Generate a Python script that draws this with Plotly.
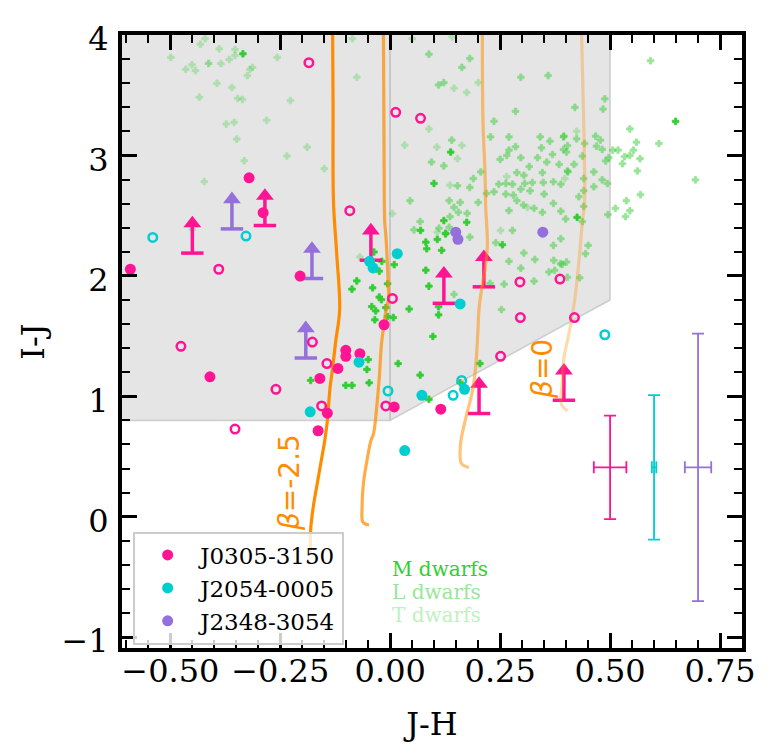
import plotly.graph_objects as go

# ---- brown dwarf loci (J-H, I-J) ----
m_dwarfs = [
    (-0.335, 3.844), (0.069, 2.377), (-0.037, 2.198), (-0.019, 2.121), (0.009, 2.093),
    (0.081, 2.280), (0.083, 2.225), (0.081, 2.047), (0.088, 1.915), (-0.076, 1.958),
    (-0.087, 1.890), (-0.040, 1.901), (-0.025, 1.824), (-0.020, 1.802), (-0.042, 1.745),
    (-0.033, 1.709), (-0.006, 1.662), (0.007, 1.654), (0.043, 1.725), (-0.025, 2.039),
    (-0.006, 1.934), (-0.010, 1.736), (-0.035, 1.635), (0.117, 2.212), (0.110, 1.744),
    (0.110, 1.676), (0.097, 1.497), (-0.050, 1.305), (-0.053, 1.223), (-0.048, 1.112),
    (0.018, 1.272), (0.068, 1.176), (0.088, 0.975), (-0.101, 1.091), (-0.087, 1.091),
    (-0.181, 1.132), (0.204, 1.272), (0.126, 2.349), (0.159, 1.112), (0.1375, 3.028),
    (0.0995, 2.767), (0.122, 2.459), (0.174, 2.445), (0.126, 2.354), (0.107, 2.303),
    (0.425, 2.486), (0.255, 2.258), (0.649, 3.283),
]
l_dwarfs = [
    (-0.413, 3.764), (0.134, 2.404),
    (0.140, 3.127), (0.094, 2.945), (0.122, 2.913), (0.153, 2.748), (0.045, 2.624),
    (0.134, 2.624), (0.159, 2.610), (0.145, 2.569), (0.155, 2.528), (0.175, 2.519),
    (0.136, 2.492), (0.068, 2.451), (0.054, 2.382), (0.111, 2.396), (0.181, 2.322),
    (0.200, 2.610), (0.206, 2.863), (0.189, 2.808), (0.181, 2.734), (0.228, 3.154),
    (0.270, 3.154), (0.250, 2.967), (0.265, 3.000), (0.270, 3.044), (0.285, 3.072),
    (0.297, 2.981), (0.316, 2.907), (0.341, 3.154), (0.344, 3.063), (0.335, 2.981),
    (0.356, 2.945), (0.369, 3.008), (0.363, 3.119), (0.394, 3.154), (0.424, 3.138),
    (0.394, 3.049), (0.384, 2.926), (0.403, 2.871), (0.418, 2.926), (0.247, 2.761),
    (0.263, 2.767), (0.278, 2.761), (0.306, 2.767), (0.323, 2.775), (0.348, 2.775),
    (0.371, 2.781), (0.388, 2.761), (0.346, 2.857), (0.288, 2.857), (0.304, 2.835),
    (0.219, 2.684), (0.236, 2.698), (0.263, 2.679), (0.280, 2.670), (0.297, 2.720),
    (0.318, 2.706), (0.350, 2.679), (0.288, 2.624), (0.303, 2.588), (0.327, 2.561),
    (0.346, 2.528), (0.371, 2.602), (0.270, 2.542), (0.388, 2.537), (0.399, 2.472),
    (0.278, 2.377), (0.240, 2.275), (0.304, 2.190), (0.329, 2.136), (0.371, 2.253),
    (0.388, 2.308), (0.372, 2.129), (0.391, 2.095), (0.270, 2.121), (0.297, 2.064),
    (0.361, 2.032), (0.374, 2.046), (0.327, 1.956), (0.259, 1.931), (0.403, 1.988),
    (0.253, 1.720), (0.145, 1.846), (0.227, 1.937), (0.387, 2.101),
    (0.420, 3.399), (0.484, 3.385), (0.395, 3.160), (0.467, 3.160), (0.478, 3.127),
    (0.545, 3.220), (0.560, 3.110), (0.611, 3.099), (0.403, 3.082), (0.401, 3.028),
    (0.442, 3.099), (0.469, 3.077), (0.482, 3.050), (0.506, 3.044), (0.518, 3.044),
    (0.553, 3.044), (0.497, 2.981), (0.490, 2.954), (0.533, 2.989), (0.545, 3.000),
    (0.568, 2.973), (0.528, 2.931), (0.437, 2.995), (0.404, 2.863), (0.463, 2.863),
    (0.562, 2.871), (0.694, 2.797), (0.482, 2.797), (0.494, 2.767), (0.463, 2.740),
    (0.440, 2.808), (0.440, 2.707), (0.429, 2.657), (0.569, 2.674), (0.537, 2.624),
    (0.512, 2.561), (0.545, 2.541), (0.535, 2.492), (0.495, 2.508), (0.440, 2.577),
    (0.437, 2.451), (0.450, 2.253), (0.444, 2.184), (0.401, 2.115), (0.431, 1.984),
    (0.592, 3.786), (0.181, 3.805), (0.163, 3.731), (0.110, 3.585), (0.122, 3.605),
    (0.297, 3.649), (0.359, 3.663), (0.285, 3.366), (0.236, 3.284), (0.488, 3.470),
    (0.088, 3.841),
]
t_dwarfs = [
    (-0.499, 3.814), (-0.432, 3.923), (-0.389, 3.885), (-0.353, 3.880), (-0.366, 3.797),
    (-0.353, 3.830), (-0.465, 3.715), (-0.451, 3.753), (-0.443, 3.704), (-0.385, 3.762),
    (-0.325, 3.663), (-0.319, 3.715), (-0.313, 3.731), (-0.394, 3.599), (-0.360, 3.564),
    (-0.434, 3.484), (-0.347, 3.473), (-0.336, 3.465), (-0.373, 3.261), (-0.355, 3.275),
    (-0.281, 3.292), (-0.349, 3.135), (-0.332, 2.956), (-0.423, 2.783), (-0.257, 3.814),
    (-0.227, 3.456), (-0.189, 3.069), (-0.235, 2.995), (-0.150, 2.890), (-0.076, 3.649),
    (-0.086, 3.970), (-0.421, 3.970), (0.033, 3.086), (0.088, 3.220), (0.005, 2.517),
    (-0.069, 2.157), (-0.450, 2.385), (0.106, 3.069), (0.163, 3.083), (0.153, 2.973),
    (0.136, 2.753), (0.265, 2.824), (0.312, 2.569), (0.251, 2.377), (0.145, 3.558),
    (0.174, 3.523), (0.200, 3.605), (0.141, 3.984), (0.424, 3.201), (0.397, 2.808),
    (0.107, 2.363), (0.050, 3.970),
]

# ---- quasar colour tracks (beta = -2.5 ... 0) ----
track_b25 = [(-0.131, 4.03), (-0.130, 3.434), (-0.129, 2.610), (-0.122, 2.198), (-0.115, 1.720),
             (-0.124, 1.457), (-0.131, 1.233), (-0.137, 1.068), (-0.143, 0.796), (-0.149, 0.631),
             (-0.158, 0.442), (-0.166, 0.275), (-0.175, 0.082), (-0.181, -0.110), (-0.181, -0.300)]
track_b17 = [(-0.0155, 4.028), (-0.014, 2.998), (-0.0125, 2.445), (-0.010, 2.338), (-0.005, 1.975),
             (-0.004, 1.810), (-0.010, 1.703), (-0.0155, 1.563), (-0.020, 1.431), (-0.025, 1.151),
             (-0.031, 0.903), (-0.038, 0.689), (-0.044, 0.631), (-0.053, 0.466), (-0.061, 0.277),
             (-0.064, 0.079), (-0.062, -0.045), (-0.048, -0.069)]
track_b08 = [(0.2095, 4.028), (0.211, 3.270), (0.2155, 2.858), (0.217, 2.585), (0.221, 2.256),
             (0.217, 2.091), (0.208, 1.893), (0.202, 1.728), (0.199, 1.514), (0.194, 1.233),
             (0.187, 1.044), (0.172, 0.821), (0.160, 0.607), (0.162, 0.442), (0.179, 0.409)]
track_b0 = [(0.435, 4.028), (0.439, 3.434), (0.442, 2.882), (0.442, 2.610), (0.437, 2.445),
            (0.429, 2.115), (0.419, 1.786), (0.406, 1.514), (0.395, 1.316), (0.391, 1.101),
            (0.389, 0.936), (0.403, 0.878)]

# ---- quasar candidates ----
j0305_det = [(-0.591, 2.055), (-0.321, 2.814), (-0.289, 2.525), (-0.205, 1.998), (-0.014, 1.594),
             (-0.101, 1.382), (-0.101, 1.332), (-0.069, 1.354), (-0.119, 1.231), (-0.160, 1.148),
             (-0.143, 0.860), (-0.164, 0.714), (0.009, 0.912), (0.115, 0.893), (-0.410, 1.162)]
j0305_open = [(-0.185, 3.770), (0.0125, 3.358), (0.069, 3.308), (-0.092, 2.541), (-0.390, 2.055),
              (0.005, 1.813), (-0.476, 1.415), (-0.177, 1.450), (-0.144, 1.272), (-0.260, 1.058),
              (-0.156, 0.920), (-0.353, 0.728), (-0.010, 0.920), (0.295, 1.950), (0.386, 1.973),
              (0.296, 1.654), (0.419, 1.654), (0.251, 1.332)]
j0305_lim = [(-0.450, 2.189), (-0.285, 2.418), (-0.044, 2.130), (0.122, 1.772), (0.213, 1.909),
             (0.202, 0.857), (0.395, 0.967)]
j2054_det = [(-0.047, 2.121), (-0.039, 2.066), (0.016, 2.184), (0.159, 1.767), (-0.071, 1.283),
             (-0.182, 0.871), (0.072, 1.008), (0.033, 0.549), (0.169, 1.058)]
j2054_open = [(-0.540, 2.319), (-0.328, 2.330), (-0.005, 1.044), (0.1625, 1.132), (0.143, 1.008),
              (0.488, 1.511)]
j2348_det = [(0.149, 2.363), (0.154, 2.303), (0.347, 2.363)]
j2348_lim = [(-0.360, 2.390), (-0.178, 1.978), (-0.192, 1.318)]

# typical errors per field
err_x = [0.50, 0.60, 0.70]
err_y = [0.41, 0.41, 0.41]
err_dx = [0.037, 0.005, 0.030]
err_dy = [0.43, 0.60, 1.11]

# selection region
sel_a_x = [-1.0, 0.0, 0.0, -1.0, -1.0]
sel_a_y = [0.8, 0.8, 5.0, 5.0, 0.8]
sel_b_x = [0.0, 0.5, 0.5, 0.0, 0.0]
sel_b_y = [0.8, 1.8, 5.0, 5.0, 0.8]

PINK = "#FF1493"
CYAN = "#00CED1"
PURPLE = "#9370DB"
ORANGE = "255,140,0"
ARROW_LEN = 0.31

fig = go.Figure()

for sx, sy in [(sel_a_x, sel_a_y), (sel_b_x, sel_b_y)]:
    fig.add_trace(go.Scatter(x=sx, y=sy, mode="lines", fill="toself", fillcolor="#e5e5e5",
                             line=dict(color="rgba(170,170,170,0.5)", width=1.5),
                             hoverinfo="skip", showlegend=False))

for pts, alpha in [(t_dwarfs, 0.3), (l_dwarfs, 0.5), (m_dwarfs, 1.0)]:
    fig.add_trace(go.Scatter(x=[p[0] for p in pts], y=[p[1] for p in pts], mode="markers",
                             marker=dict(symbol="cross", size=5.5, color="#32CD32", opacity=alpha,
                                         line=dict(color="#32CD32", width=0.8)),
                             showlegend=False))


def add_limits(pts, colour):
    # arrow = shaft + cap at the limit + triangle head
    sx, sy = [], []
    for x, y in pts:
        sx += [x, x, None]
        sy += [y, y + ARROW_LEN - 0.07, None]
    fig.add_trace(go.Scatter(x=sx, y=sy, mode="lines", line=dict(color=colour, width=3.5),
                             showlegend=False, hoverinfo="skip"))
    fig.add_trace(go.Scatter(x=[p[0] for p in pts], y=[p[1] for p in pts], mode="markers",
                             marker=dict(symbol="line-ew", size=16, line=dict(color=colour, width=3.5)),
                             showlegend=False))
    fig.add_trace(go.Scatter(x=[p[0] for p in pts], y=[p[1] + ARROW_LEN - 0.064 for p in pts],
                             mode="markers", marker=dict(symbol="triangle-up", size=15.5, color=colour),
                             showlegend=False))


add_limits(j0305_lim, PINK)
add_limits(j2348_lim, PURPLE)

for trk, alpha in [(track_b25, 1.0), (track_b17, 0.72), (track_b08, 0.52), (track_b0, 0.32)]:
    fig.add_trace(go.Scatter(x=[p[0] for p in trk], y=[p[1] for p in trk], mode="lines",
                             line=dict(color=f"rgba({ORANGE},{alpha})", width=3.2, shape="spline"),
                             showlegend=False, hoverinfo="skip"))

for pts, colour in [(j0305_open, PINK), (j2054_open, CYAN)]:
    fig.add_trace(go.Scatter(x=[p[0] for p in pts], y=[p[1] for p in pts], mode="markers",
                             marker=dict(symbol="circle-open", size=8.5, color=colour,
                                         line=dict(width=2.5, color=colour)),
                             showlegend=False))

for pts, colour, name in [(j0305_det, PINK, "J0305-3150"), (j2054_det, CYAN, "J2054-0005"),
                          (j2348_det, PURPLE, "J2348-3054")]:
    fig.add_trace(go.Scatter(x=[p[0] for p in pts], y=[p[1] for p in pts], mode="markers",
                             marker=dict(symbol="circle", size=11, color=colour),
                             name=name))

for i, colour in enumerate([PINK, CYAN, PURPLE]):
    fig.add_trace(go.Scatter(x=[err_x[i]], y=[err_y[i]], mode="markers",
                             marker=dict(size=1, color=colour),
                             error_x=dict(type="data", array=[err_dx[i]], color=colour, thickness=1.8, width=6),
                             error_y=dict(type="data", array=[err_dy[i]], color=colour, thickness=1.8, width=6),
                             showlegend=False))

annots = [
    dict(x=-0.230, y=0.28, text="<i>β</i>=-2.5", textangle=-90),
    dict(x=0.346, y=1.23, text="<i>β</i>=0", textangle=-90),
]
for a in annots:
    fig.add_annotation(x=a["x"], y=a["y"], text=a["text"], textangle=a["textangle"], showarrow=False,
                       font=dict(family="DejaVu Sans", size=28, color="#FF8C00"))

for txt, yy, col in [("M dwarfs", -0.434, "#32CD32"), ("L dwarfs", -0.624, "#98E698"),
                     ("T dwarfs", -0.819, "#C1F0C1")]:
    fig.add_annotation(x=0.0, y=yy, text=txt, showarrow=False, xanchor="left",
                       font=dict(family="DejaVu Serif", size=20, color=col))

axis_common = dict(showline=True, linewidth=4, linecolor="black", mirror="allticks",
                   ticks="inside", ticklen=15, tickwidth=2.5, tickcolor="black",
                   showgrid=False, zeroline=False,
                   tickfont=dict(family="DejaVu Serif", size=32, color="black"))

# page body adds 8px offset, so the figure is a bit smaller than the window
fig.update_layout(
    width=769, height=745,
    margin=dict(l=114, r=35, t=24, b=105),
    paper_bgcolor="white", plot_bgcolor="white",
    font=dict(family="DejaVu Serif", color="black"),
    xaxis=dict(range=[-0.61, 0.80], tickmode="array",
               tickvals=[-0.5, -0.25, 0, 0.25, 0.5, 0.75],
               ticktext=["−0.50", "−0.25", "0.00", "0.25", "0.50", "0.75"],
               minor=dict(tickmode="linear", tick0=0, dtick=0.05, ticks="inside", ticklen=8,
                          tickwidth=2, tickcolor="black"),
               ticklabelstandoff=-8,
               title=dict(text="J-H", font=dict(size=32), standoff=24), **axis_common),
    yaxis=dict(range=[-1.09, 4.0], tickmode="array", tickvals=[-1, 0, 1, 2, 3, 4],
               ticktext=["−1", "0", "1", "2", "3", "4"],
               minor=dict(tickmode="linear", tick0=0, dtick=0.2, ticks="inside", ticklen=8,
                          tickwidth=2, tickcolor="black"),
               ticklabelstandoff=3, ticklabelshift=4,
               title=dict(text="I-J", font=dict(size=32), standoff=8), **axis_common),
    legend=dict(x=0.018, y=0.19, xanchor="left", yanchor="top",
                bgcolor="rgba(255,255,255,0.8)", bordercolor="#cccccc", borderwidth=2,
                font=dict(family="DejaVu Serif", size=23, color="black"), itemwidth=55),
)

fig.write_html("out.html")
